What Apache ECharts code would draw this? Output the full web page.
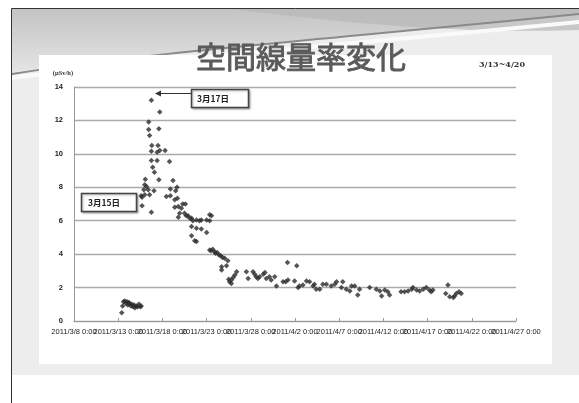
<!DOCTYPE html>
<html>
<head>
<meta charset="utf-8">
<script src="https://cdn.jsdelivr.net/npm/echarts@6.0.0/dist/echarts.min.js"></script>
<style>
html, body { margin: 0; padding: 0; background: #fff; }
#chart { width: 579px; height: 403px; }
</style>
</head>
<body>
<div id="chart"></div>
<script>
// x = days since 2011/3/8 0:00, y = µSv/h
const march13to15 = [[5.4,0.5],[5.5,0.9],[5.6,1.15],[5.75,1.2],[5.9,1.05],[6.0,1.15],[6.1,0.95],[6.2,1.1],[6.3,1.05],[6.45,0.9],[6.55,1.0],[6.7,0.85],[6.8,0.95],[6.9,0.8],[7.05,0.9],[7.2,0.85],[7.35,1.0],[7.5,0.85],[7.6,0.9]];
const march15to18 = [[7.6,7.5],[7.7,7.4],[7.7,6.9],[7.9,7.85],[8.0,8.15],[8.0,7.55],[8.07,8.48],[8.2,8.05],[8.4,7.85],[8.55,7.55],[8.45,11.9],[8.45,11.45],[8.55,11.1],[8.75,13.2],[8.8,10.5],[8.75,10.15],[8.75,9.6],[8.9,9.2],[9.1,8.9],[9.05,7.8],[8.75,6.5],[9.4,10.1],[9.4,9.6],[9.5,10.5],[9.6,11.5],[9.7,12.5],[9.7,10.2],[9.6,8.45],[10.3,10.2],[10.8,9.55]];
const march18to23 = [[10.45,7.45],[10.9,7.9],[10.9,7.5],[11.2,8.4],[11.5,7.8],[11.65,8.0],[11.4,7.25],[11.7,7.35],[11.4,6.8],[11.8,6.85],[11.95,6.45],[11.8,6.2],[12.15,6.75],[12.3,7.0],[12.6,7.0],[12.5,6.45],[12.7,6.3],[12.9,6.3],[13.1,6.15],[13.3,6.15],[13.45,6.0],[13.85,6.05],[14.2,6.0],[14.4,6.05],[15.0,6.05],[15.35,6.0],[15.55,6.3],[15.35,6.35],[13.3,5.65],[13.85,5.55],[14.4,5.5],[15.0,5.3],[13.3,5.1],[13.65,4.8],[13.85,4.75]];
const march23to31 = [[15.35,4.25],[15.5,4.2],[15.7,4.3],[15.9,4.15],[16.0,4.05],[16.2,4.1],[16.4,3.95],[16.6,3.9],[16.8,3.8],[17.05,3.75],[17.4,3.6],[17.25,3.3],[16.7,3.25],[16.7,3.05],[17.5,2.5],[17.6,2.35],[17.8,2.45],[17.8,2.25],[18.0,2.6],[18.2,2.75],[18.4,2.95],[19.5,2.95],[19.7,2.55],[20.25,2.95],[20.45,2.8],[20.6,2.65],[20.8,2.55],[21.0,2.65],[21.4,2.8],[21.6,2.9],[21.75,2.55],[22.1,2.65],[22.3,2.45],[22.7,2.65],[22.9,2.1]];
const april1to9 = [[23.65,2.35],[23.95,2.35],[24.15,3.5],[24.2,2.45],[24.95,2.4],[25.2,3.3],[25.35,2.0],[25.5,2.1],[25.9,2.15],[26.3,2.4],[26.65,2.35],[27.05,2.1],[27.2,2.2],[27.4,1.9],[27.8,1.9],[28.15,2.2],[28.55,2.2],[29.1,2.1],[29.5,2.2],[29.7,2.35],[30.25,2.0],[30.4,2.35],[30.8,1.9],[31.2,1.8],[31.4,2.1],[31.75,2.1],[32.1,1.55],[32.3,1.9]];
const april9to20 = [[33.45,2.0],[34.2,1.9],[34.6,1.8],[34.8,1.5],[35.15,1.85],[35.5,1.75],[35.7,1.55],[37.0,1.75],[37.4,1.75],[37.8,1.8],[38.2,1.9],[38.35,2.0],[38.75,1.85],[39.1,1.8],[39.5,1.9],[39.85,2.0],[40.2,1.85],[40.4,1.75],[40.6,1.85],[42.05,1.65],[42.3,2.15],[42.5,1.45],[42.9,1.4],[43.05,1.5],[43.25,1.65],[43.55,1.75],[43.8,1.65]];

// 目盛ラベル（5日ごと）
const xTickLabels = ['2011/3/8 0:00', '2011/3/13 0:00', '2011/3/18 0:00', '2011/3/23 0:00', '2011/3/28 0:00',
	'2011/4/2 0:00', '2011/4/7 0:00', '2011/4/12 0:00', '2011/4/17 0:00', '2011/4/22 0:00', '2011/4/27 0:00'];
const yTicks = [0, 2, 4, 6, 8, 10, 12, 14];
const titleText = '空間線量率変化';
const periodText = '3/13~4/20';
const unitText = '(μSv/h)';
const notes = ['3月17日', '3月15日'];

const points = [].concat(march13to15, march15to18, march18to23, march23to31, april1to9, april9to20);

// 背景の曲線（スライド装飾）を折れ線に分解
function bez(p0, p1, p2, p3, n) {
	const out = [];
	for (let i = 0; i <= n; i++) {
		const t = i / n, u = 1 - t;
		out.push([
			u*u*u*p0[0] + 3*u*u*t*p1[0] + 3*u*t*t*p2[0] + t*t*t*p3[0],
			u*u*u*p0[1] + 3*u*u*t*p1[1] + 3*u*t*t*p2[1] + t*t*t*p3[1]
		]);
	}
	return out;
}
const swoopTop = [[12, 9], [579, 9]].concat(bez([579, 14], [430, 30], [260, 40], [12, 72], 40));
const swoopBand = [[230, 9]].concat(bez([230, 9], [340, 22], [450, 34], [579, 30], 40), [[579, 9]]);

const chart = echarts.init(document.getElementById('chart'));
chart.setOption({
	animation: false,
	backgroundColor: '#fff',
	grid: { left: 74, right: 63, top: 87, bottom: 82 },
	xAxis: [{
		// データ用の数値軸（経過日数）
		type: 'value',
		min: 0, max: (xTickLabels.length - 1) * 5, interval: 5,
		axisLine: { show: true, lineStyle: { color: '#999', width: 1 } },
		axisTick: { show: false },
		axisLabel: { show: false },
		splitLine: { show: false }
	}, {
		// 目盛とラベル用
		type: 'category',
		position: 'bottom',
		boundaryGap: false,
		data: xTickLabels,
		axisLine: { show: false },
		axisTick: { show: true, inside: true, length: 3, interval: 0, lineStyle: { color: '#999' } },
		splitLine: { show: false },
		axisLabel: {
			interval: 0,
			margin: 7,
			fontSize: 7.5,
			fontFamily: 'Liberation Sans',
			color: '#1a1a1a'
		}
	}],
	yAxis: {
		type: 'value',
		min: yTicks[0], max: yTicks[yTicks.length - 1], interval: 2,
		axisLine: { show: true, lineStyle: { color: '#999', width: 1 } },
		axisTick: { show: false },
		splitLine: { lineStyle: { color: '#aaa', width: 1.4 } },
		axisLabel: {
			margin: 11,
			fontSize: 7.5,
			fontWeight: 'bold',
			fontFamily: 'Liberation Sans',
			color: '#222'
		}
	},
	series: [{
		type: 'scatter',
		xAxisIndex: 0,
		data: points,
		symbol: 'diamond',
		symbolSize: 5.5,
		itemStyle: { color: '#2a2a2a' },
		z: 5
	}],
	graphic: [
		// スライド背景
		{ type: 'rect', z: -20, shape: { x: 12, y: 9, width: 567, height: 366 },
			style: { fill: '#ededed' } },
		{ type: 'polygon', z: -19, shape: { points: swoopTop },
			style: { fill: new echarts.graphic.LinearGradient(0, 0, 0, 1, [
				{ offset: 0, color: '#c4c4c4' }, { offset: 1, color: '#e4e4e4' }]) } },
		{ type: 'polygon', z: -18, shape: { points: swoopBand },
			style: { fill: '#b8b8b8', opacity: 0.7 } },
		{ type: 'bezierCurve', z: -17, shape: { x1: 12, y1: 74, cpx1: 150, cpy1: 52, cpx2: 320, cpy2: 40, x2: 579, y2: 14 },
			style: { fill: null, stroke: '#8a8a8a', lineWidth: 2 } },
		{ type: 'bezierCurve', z: -17, shape: { x1: 12, y1: 78, cpx1: 170, cpy1: 58, cpx2: 330, cpy2: 46, x2: 579, y2: 22 },
			style: { fill: null, stroke: '#fafafa', lineWidth: 4 } },
		// グラフ領域
		{ type: 'rect', z: -16, shape: { x: 39, y: 55, width: 513, height: 309 },
			style: { fill: '#fff' } },
		// 枠線
		{ type: 'polyline', z: 50, shape: { points: [[579, 8.5], [11.5, 8.5], [11.5, 403]] },
			style: { fill: null, stroke: '#333', lineWidth: 1 } },
		// タイトル
		{ type: 'text', z: 20, x: 301, y: 57,
			style: { text: titleText, font: '30px "Noto Sans CJK JP"', fill: '#5a5a5a',
				stroke: '#5a5a5a', lineWidth: 0.9,
				align: 'center', verticalAlign: 'middle',
				shadowColor: 'rgba(0,0,0,0.3)', shadowBlur: 2, shadowOffsetX: 1, shadowOffsetY: 1 } },
		{ type: 'text', z: 20, x: 502, y: 65,
			style: { text: periodText, font: 'bold 8px "DejaVu Serif"', fill: '#333',
				align: 'center', verticalAlign: 'middle' } },
		{ type: 'text', z: 20, x: 63, y: 73,
			style: { text: unitText, font: 'bold 6.5px "Liberation Serif"', fill: '#333',
				align: 'center', verticalAlign: 'middle' } },
		// 注記 3月17日
		{ type: 'line', z: 20, shape: { x1: 191.5, y1: 93.5, x2: 159, y2: 93.5 },
			style: { stroke: '#333', lineWidth: 1.2 } },
		{ type: 'polygon', z: 20, shape: { points: [[155, 93.5], [161, 90.5], [161, 96.5]] },
			style: { fill: '#333' } },
		{ type: 'rect', z: 20, shape: { x: 191.5, y: 89.5, width: 57, height: 18 },
			style: { fill: '#fff', stroke: '#444', lineWidth: 1.5,
				shadowColor: 'rgba(0,0,0,0.3)', shadowBlur: 2, shadowOffsetX: 1, shadowOffsetY: 1 } },
		{ type: 'text', z: 21, x: 197, y: 98.5,
			style: { text: notes[0], font: 'bold 8.5px "Noto Sans CJK JP"', fill: '#222',
				align: 'left', verticalAlign: 'middle' } },
		// 注記 3月15日
		{ type: 'rect', z: 20, shape: { x: 81.5, y: 193.5, width: 55, height: 18 },
			style: { fill: '#fff', stroke: '#444', lineWidth: 1.5,
				shadowColor: 'rgba(0,0,0,0.3)', shadowBlur: 2, shadowOffsetX: 1, shadowOffsetY: 1 } },
		{ type: 'text', z: 21, x: 88, y: 202.5,
			style: { text: notes[1], font: 'bold 8.5px "Noto Sans CJK JP"', fill: '#222',
				align: 'left', verticalAlign: 'middle' } }
	]
});
</script>
</body>
</html>
